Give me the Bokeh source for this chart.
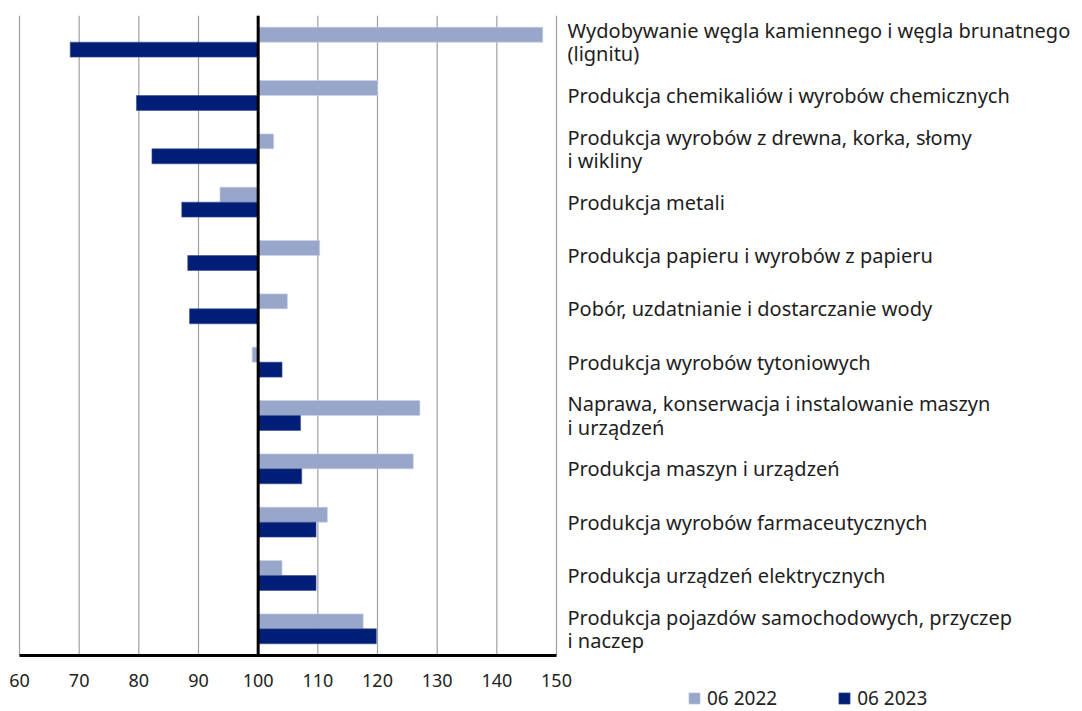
from bokeh.plotting import figure
from bokeh.models import ColumnDataSource, Range1d, Legend, LegendItem, FixedTicker
from bokeh.core.properties import value
from bokeh.embed import file_html
from bokeh.resources import INLINE

categories = [
    "Wydobywanie węgla kamiennego i węgla brunatnego\n(lignitu)",
    "Produkcja chemikaliów i wyrobów chemicznych",
    "Produkcja wyrobów z drewna, korka, słomy\ni wikliny",
    "Produkcja metali",
    "Produkcja papieru i wyrobów z papieru",
    "Pobór, uzdatnianie i dostarczanie wody",
    "Produkcja wyrobów tytoniowych",
    "Naprawa, konserwacja i instalowanie maszyn\ni urządzeń",
    "Produkcja maszyn i urządzeń",
    "Produkcja wyrobów farmaceutycznych",
    "Produkcja urządzeń elektrycznych",
    "Produkcja pojazdów samochodowych, przyczep\ni naczep",
]
v2022 = [147.7, 120.0, 102.6, 93.6, 110.3, 104.9, 99.0, 127.1, 126.0, 111.6, 104.0, 117.6]
v2023 = [68.5, 79.6, 82.2, 87.2, 88.2, 88.5, 104.0, 107.1, 107.3, 109.7, 109.7, 119.8]
x_ticks = [60, 70, 80, 90, 100, 110, 120, 130, 140, 150]
baseline = 100
series_names = ["06 2022", "06 2023"]
colors = ["#98a6c9", "#001e75"]

FONT = "Noto Sans"
W, H = 1082, 711
LEFT, TOP = 19, 15
AXIS_PX = 537            # pixel width of the 60..150 scale
ROWS_PX = 640            # pixel height of the category rows
BAR_H = 0.28
n = len(categories)
centers = [i + 0.5 for i in range(n)]

x0, x1 = x_ticks[0], x_ticks[-1]
upp = (x1 - x0) / AXIS_PX          # data units per pixel
x_start = x0 - LEFT * upp
x_end = x0 + (W - LEFT) * upp
y_end = n * (H - TOP) / ROWS_PX
label_x = x1 + 11 * upp

src = ColumnDataSource(dict(
    cat=categories,
    y22=[c - BAR_H / 2 for c in centers],
    y23=[c + BAR_H / 2 for c in centers],
    yc=centers,
    v22=v2022,
    v23=v2023,
    base=[baseline] * n,
    lx=[label_x] * n,
))

p = figure(width=W, height=H, output_backend="svg", toolbar_location=None,
           x_range=Range1d(x_start, x_end), y_range=Range1d(y_end, 0),
           min_border_left=0, min_border_right=0, min_border_top=TOP, min_border_bottom=0)
p.outline_line_color = None
p.background_fill_color = "white"
p.border_fill_color = "white"

# vertical grid lines stop at the category area
p.xgrid.visible = False
p.segment(x0=x_ticks, x1=x_ticks, y0=[0] * len(x_ticks), y1=[n] * len(x_ticks),
          line_color="#a0a0a0", line_width=1.2)

r22 = p.hbar(y="y22", left="base", right="v22", height=BAR_H, source=src,
             fill_color=colors[0], line_color="#c9d0e4", line_width=0.6)
r23 = p.hbar(y="y23", left="base", right="v23", height=BAR_H, source=src,
             fill_color=colors[1], line_color="#3a4f93", line_width=0.6)

# baseline at 100
p.segment(x0=[baseline], x1=[baseline], y0=[0], y1=[n], line_color="black", line_width=3)

p.yaxis.visible = False
p.ygrid.visible = False
ax = p.xaxis[0]
ax.fixed_location = n
ax.bounds = (x0, x1)
ax.ticker = FixedTicker(ticks=x_ticks)
ax.axis_line_color = "black"
ax.axis_line_width = 3
ax.major_tick_line_color = None
ax.minor_tick_line_color = None
ax.major_label_text_font = FONT
ax.major_label_text_font_size = "18px"
ax.major_label_text_color = "#222222"
ax.major_label_standoff = 12

p.text(x="lx", y="yc", text="cat", source=src,
       text_font=value(FONT), text_font_size="20px", text_color="#1e1e1e",
       text_baseline="middle", text_align="left", text_line_height=0.87)

legend = Legend(items=[LegendItem(label=series_names[0], renderers=[r22]),
                       LegendItem(label=series_names[1], renderers=[r23])],
                orientation="horizontal", location=(687, 0),
                label_text_font=FONT, label_text_font_size="19px", label_text_color="#222222",
                glyph_width=14, glyph_height=14, label_standoff=6, spacing=60,
                label_height=18, padding=0, margin=0, border_line_color=None,
                background_fill_alpha=0)
p.add_layout(legend, "center")

open("out.html", "w").write(file_html(p, INLINE))
